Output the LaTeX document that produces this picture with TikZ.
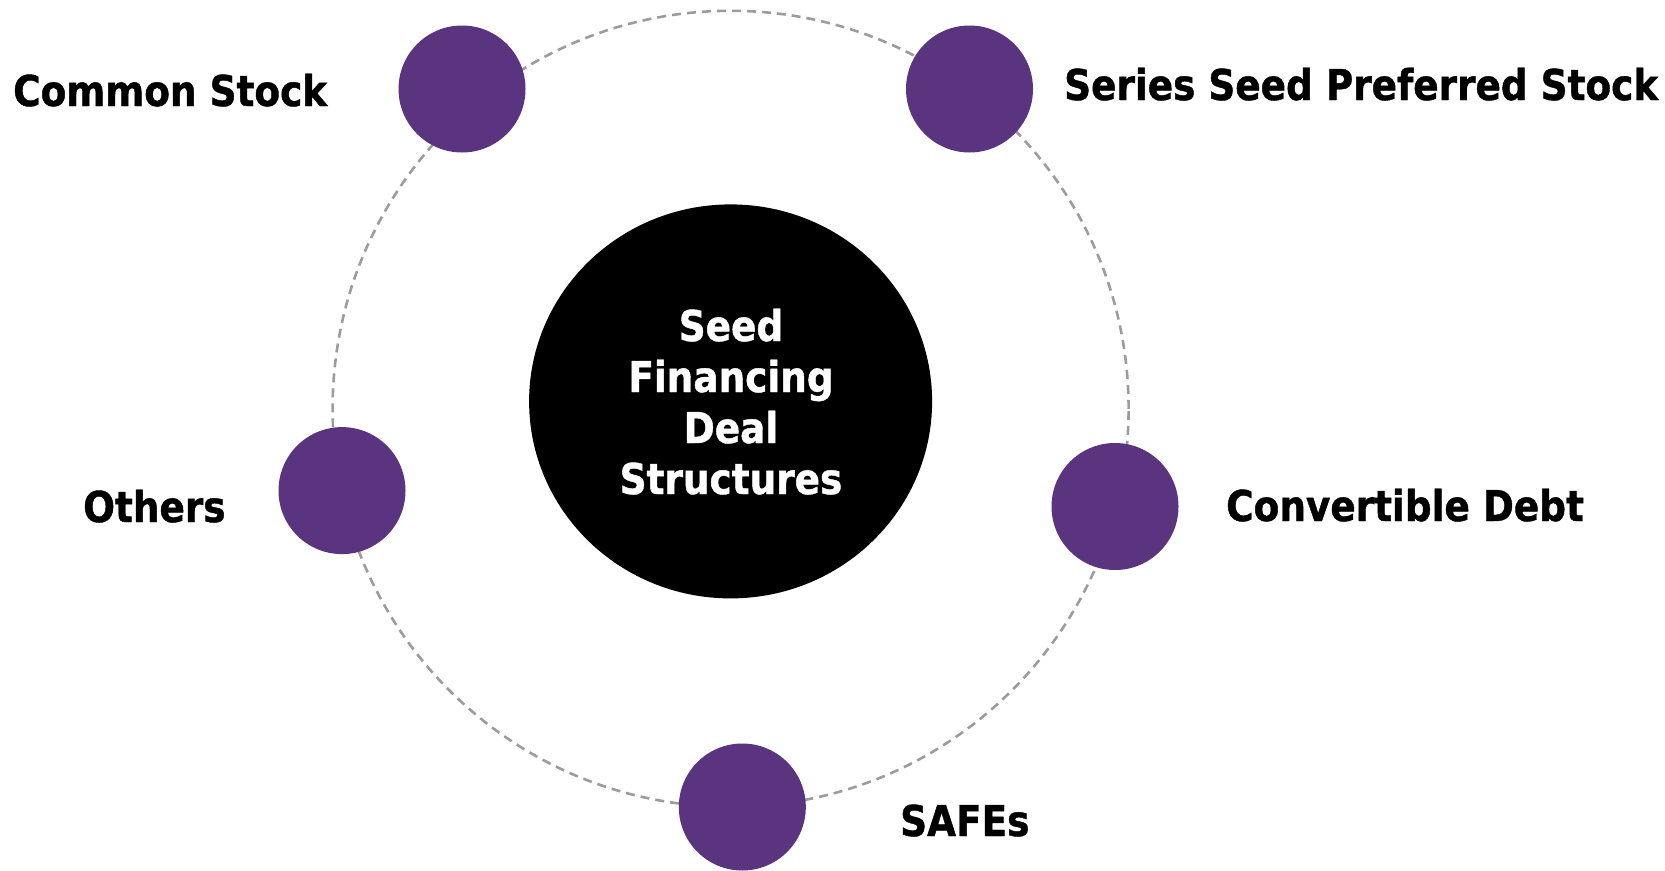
\documentclass[tikz,border=0pt]{standalone}
\usepackage{fontspec}
\setmainfont{DejaVu Sans}[BoldFont={DejaVu Sans Bold}, BoldFeatures={FakeStretch=0.88, FakeBold=1}]
\usetikzlibrary{shapes.geometric}

\definecolor{dotpurple}{HTML}{5B3480}
\definecolor{ringgray}{HTML}{9C9C9C}

\tikzset{
  ring/.style={circle, draw=ringgray, line width=2.6pt, dash pattern=on 9pt off 6pt, minimum size=796pt, inner sep=0pt},
  hub/.style={ellipse, fill=black, minimum width=403pt, minimum height=394pt, inner sep=0pt},
  dot/.style={circle, fill=dotpurple, minimum size=127pt, inner sep=0pt},
  label/.style={anchor=base west, inner sep=0pt, font=\fontsize{42.5}{50}\selectfont\bfseries, text=black},
  hubtext/.style={anchor=base, inner sep=0pt, font=\fontsize{42.5}{50}\selectfont\bfseries, text=white}
}

\begin{document}
\begin{tikzpicture}[x=1pt, y=-1pt]
  \useasboundingbox (0,0) rectangle (1665,870);

  % dashed orbit behind everything
  \node[ring] (orbit) at (730.6,408.8) {};

  % central hub
  \node[hub] (hub) at (730.6,401.4) {};
  \node[hubtext] (t1) at (731,341) {Seed};
  \node[hubtext] (t2) at (731,392) {Financing};
  \node[hubtext] (t3) at (731,443) {Deal};
  \node[hubtext] (t4) at (731,494) {Structures};

  % satellite dots
  \node[dot] (common)  at (462,89) {};
  \node[dot] (series)  at (969.5,89) {};
  \node[dot] (convert) at (1115,506.5) {};
  \node[dot] (safes)   at (742.3,807) {};
  \node[dot] (others)  at (342,490.6) {};

  % labels
  \node[label] (lcommon)  at (13,106)   {Common Stock};
  \node[label] (lseries)  at (1064,100) {Series Seed Preferred Stock};
  \node[label] (lconvert) at (1226,521) {Convertible Debt};
  \node[label] (lsafes)   at (900,836)  {SAFEs};
  \node[label] (lothers)  at (83,522)   {Others};
\end{tikzpicture}
\end{document}
